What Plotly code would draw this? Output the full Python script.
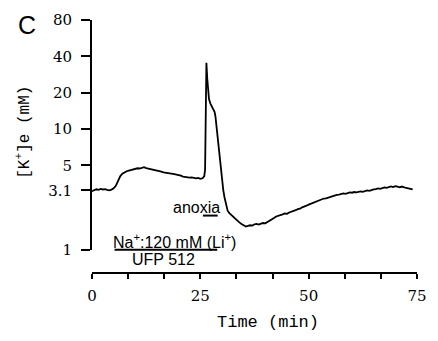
import plotly.graph_objects as go

# ---- data ----
time_min = [0.0, 0.5, 1.0, 1.5, 2.0, 2.5, 3.0, 3.5, 4.0, 4.5, 5.0, 5.5, 6.0, 6.5, 7.0, 7.5,
            8.0, 8.5, 9.0, 9.5, 10.0, 10.5, 11.0, 11.5, 12.0, 12.5, 13.0, 13.5, 14.0, 14.5,
            15.0, 15.5, 16.0, 16.5, 17.0, 17.5, 18.0, 18.5, 19.0, 19.5, 20.0, 20.5, 21.0,
            21.5, 22.0, 22.5, 23.0, 23.5, 24.0, 24.5, 25.0, 25.5, 25.9, 26.1, 26.2, 26.3,
            26.4, 26.6, 26.8, 27.0, 27.3, 27.7, 28.0, 28.3, 28.5, 28.7, 28.9, 29.1, 29.3,
            29.5, 29.75, 30.0, 30.3, 30.6, 31.0, 31.3, 31.7, 32.0, 32.5, 33.0, 33.5, 34.0,
            34.5, 35.0, 35.5, 36.0, 36.5, 37.0, 37.5, 38.0, 38.5, 39.0, 39.5, 40.0, 40.5,
            41.0, 41.5, 42.0, 42.5, 43.0, 43.5, 44.0, 44.5, 45.0, 45.5, 46.0, 46.5, 47.0,
            47.5, 48.0, 48.5, 49.0, 49.5, 50.0, 50.5, 51.0, 51.5, 52.0, 52.5, 53.0, 53.5,
            54.0, 54.5, 55.0, 55.5, 56.0, 56.5, 57.0, 57.5, 58.0, 58.5, 59.0, 59.5, 60.0,
            60.5, 61.0, 61.5, 62.0, 62.5, 63.0, 63.5, 64.0, 64.5, 65.0, 65.5, 66.0, 66.5,
            67.0, 67.5, 68.0, 68.5, 69.0, 69.5, 70.0, 70.5, 71.0, 71.5, 72.0, 72.5, 73.0,
            73.5, 74.0]
k_conc_mM = [3.05, 3.12, 3.16, 3.13, 3.18, 3.15, 3.17, 3.12, 3.10, 3.14, 3.22, 3.38, 3.69,
             4.05, 4.25, 4.38, 4.46, 4.52, 4.58, 4.62, 4.66, 4.72, 4.70, 4.78, 4.82, 4.74,
             4.70, 4.66, 4.60, 4.55, 4.50, 4.44, 4.42, 4.36, 4.34, 4.30, 4.31, 4.26, 4.22,
             4.19, 4.16, 4.10, 4.03, 4.00, 3.98, 3.95, 3.97, 3.92, 3.90, 3.93, 3.86, 3.90,
             4.05, 4.6, 10.7, 22.0, 35.4, 26.0, 20.5, 17.7, 16.3, 15.2, 14.4, 13.8, 12.6,
             10.7, 9.1, 7.84, 6.7, 5.72, 4.6, 3.69, 3.1, 2.69, 2.32, 2.10, 2.00, 1.95, 1.88,
             1.80, 1.73, 1.68, 1.63, 1.58, 1.55, 1.57, 1.59, 1.58, 1.62, 1.63, 1.61, 1.64,
             1.66, 1.65, 1.69, 1.72, 1.78, 1.83, 1.88, 1.90, 1.94, 1.96, 1.99, 1.98, 2.03,
             2.05, 2.10, 2.12, 2.16, 2.18, 2.24, 2.26, 2.31, 2.36, 2.40, 2.44, 2.50, 2.52,
             2.58, 2.62, 2.65, 2.66, 2.70, 2.72, 2.76, 2.80, 2.84, 2.86, 2.89, 2.92, 2.90,
             2.95, 2.98, 2.96, 3.00, 2.98, 3.02, 3.04, 3.01, 3.05, 3.09, 3.07, 3.12, 3.15,
             3.17, 3.21, 3.19, 3.26, 3.28, 3.25, 3.31, 3.34, 3.30, 3.36, 3.32, 3.28, 3.33,
             3.27, 3.24, 3.22, 3.18, 3.16]

y_tick_vals = [1, 3.1, 5, 10, 20, 40, 80]
y_tick_text = ["1", "3.1", "5", "10", "20", "40", "80"]
x_tick_vals = [0, 25, 50, 75]
x_tick_text = ["0", "25", "50", "75"]
x_minor_step = 25 / 3

anoxia_period = [25.6, 29.0]
na_li_period = [5.2, 28.9]

serif = "DejaVu Serif"
mono = "Liberation Mono"
sans = "Liberation Sans"

fig = go.Figure()
fig.add_trace(go.Scatter(x=time_min, y=k_conc_mM, mode="lines",
                         line=dict(color="black", width=1.8), showlegend=False,
                         hoverinfo="skip"))

fig.update_layout(
    width=438, height=341,
    margin=dict(l=92, r=11, t=17, b=68),
    paper_bgcolor="white", plot_bgcolor="white",
    xaxis=dict(range=[0, 75], anchor="free", position=0, showgrid=False, zeroline=False,
               showline=True, linecolor="black", linewidth=2,
               ticks="outside", ticklen=5, tickwidth=1.5, tickcolor="black",
               tickmode="array", tickvals=x_tick_vals, ticktext=x_tick_text,
               minor=dict(tick0=0, dtick=x_minor_step, ticks="outside", ticklen=5,
                          tickwidth=1.5, tickcolor="black", showgrid=False),
               tickfont=dict(family=serif, size=15, color="black"), ticklabelstandoff=4),
    yaxis=dict(type="log", range=[0, 1.90309], domain=[0.0926, 1], showgrid=False,
               zeroline=False, showline=True, linecolor="black", linewidth=2,
               ticks="outside", ticklen=9, tickwidth=2, tickcolor="black",
               tickmode="array", tickvals=y_tick_vals, ticktext=y_tick_text,
               tickfont=dict(family=serif, size=15, color="black"), ticklabelstandoff=6),
)

# period bars
fig.add_shape(type="line", xref="x", yref="paper", x0=anoxia_period[0], x1=anoxia_period[1],
              y0=0.227, y1=0.227, line=dict(color="black", width=2))
fig.add_shape(type="line", xref="x", yref="paper", x0=na_li_period[0], x1=na_li_period[1],
              y0=0.092, y1=0.092, line=dict(color="black", width=2))

fig.add_annotation(text="anoxia", xref="x", yref="paper", x=24.1, y=0.26, showarrow=False,
                   font=dict(family=sans, size=16, color="black"), xanchor="center", yanchor="middle")
fig.add_annotation(text="Na<sup>+</sup>:120 mM (Li<sup>+</sup>)", xref="x", yref="paper", x=19.0,
                   y=0.127, showarrow=False, font=dict(family=sans, size=16, color="black"),
                   xanchor="center", yanchor="middle")
fig.add_annotation(text="UFP 512", xref="x", yref="paper", x=16.4, y=0.053, showarrow=False,
                   font=dict(family=sans, size=16, color="black"), xanchor="center", yanchor="middle")

# axis titles and panel label
fig.add_annotation(text="Time (min)", xref="paper", yref="paper", x=(273 - 92) / 335,
                   y=(273 - 323) / 256, showarrow=False,
                   font=dict(family=mono, size=17, color="black"), xanchor="center", yanchor="middle")
fig.add_annotation(text="[K<sup>+</sup>]e (mM)", xref="paper", yref="paper", x=(22 - 92) / 335,
                   y=(273 - 131) / 256, showarrow=False, textangle=-90,
                   font=dict(family=mono, size=16, color="black"), xanchor="center", yanchor="middle")
fig.add_annotation(text="C", xref="paper", yref="paper", x=(25 - 92) / 335, y=(273 - 22) / 256,
                   showarrow=False, font=dict(family=sans, size=25, color="black"),
                   xanchor="center", yanchor="middle")

fig.write_html("out.html")
